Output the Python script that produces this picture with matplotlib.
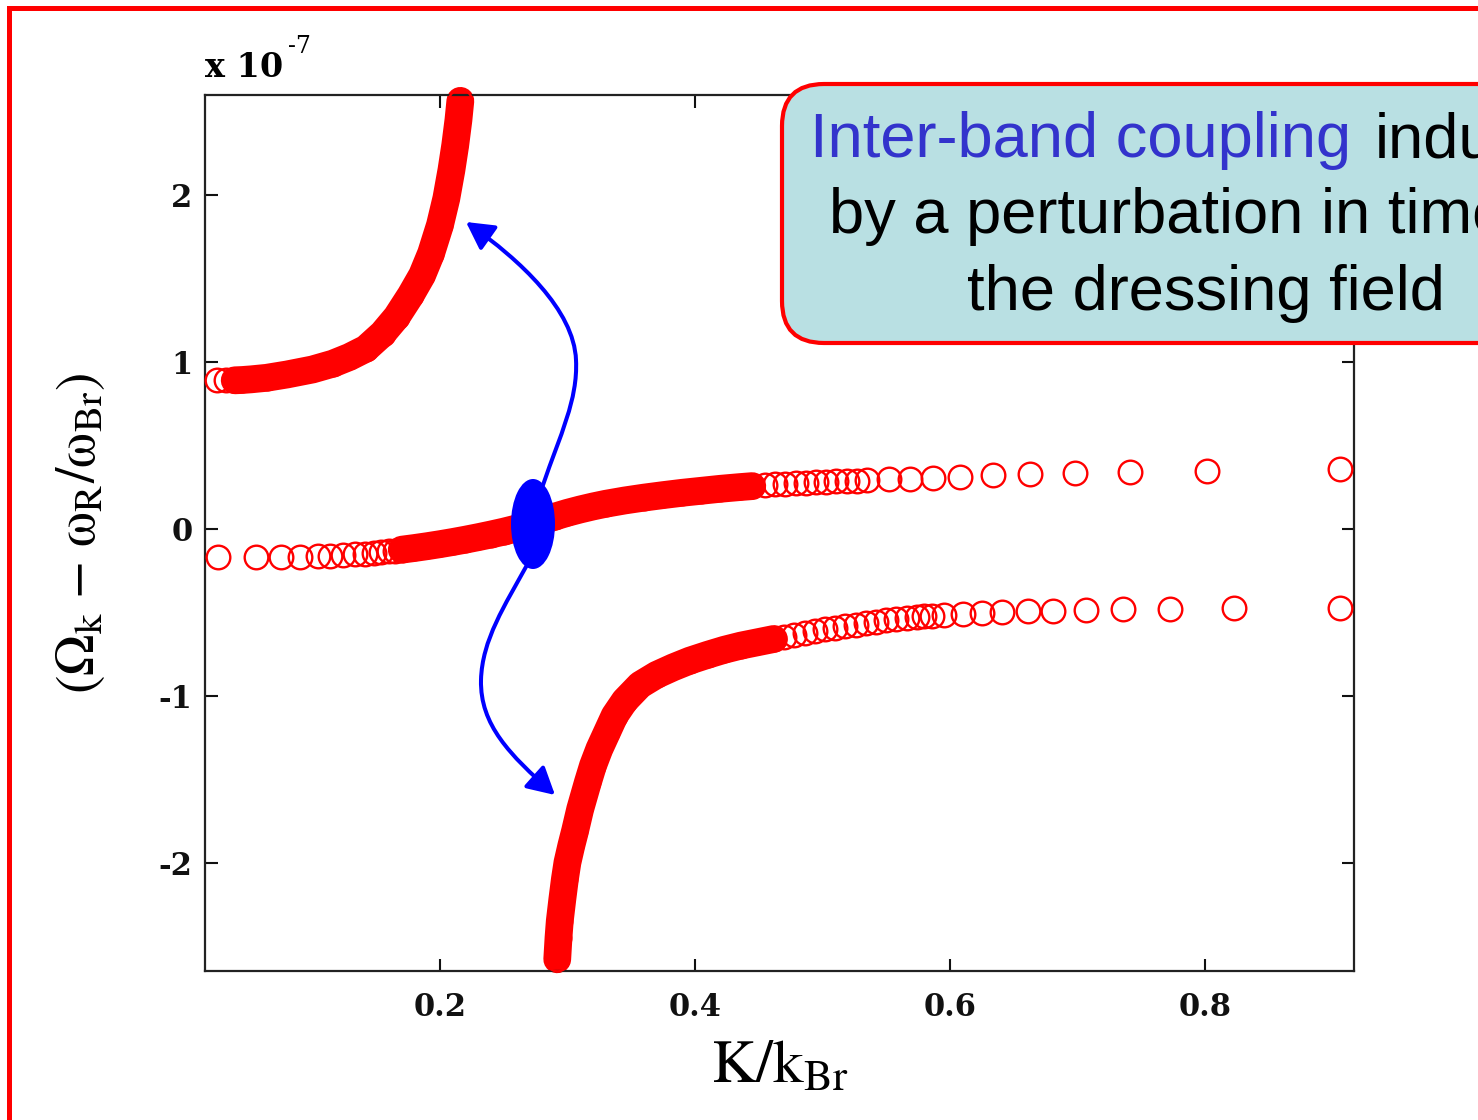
import numpy as np
import matplotlib
matplotlib.use('Agg')
import matplotlib.pyplot as plt
from matplotlib.patches import Rectangle, FancyBboxPatch, Ellipse, FancyArrowPatch
from matplotlib.path import Path

plt.rcParams['mathtext.fontset'] = 'stix'
plt.rcParams['axes.unicode_minus'] = False

# upper branch
up_k = [0.025, 0.032, 0.039, 0.045, 0.052, 0.064, 0.080, 0.100, 0.116, 0.129, 0.142,
        0.155, 0.166, 0.177, 0.186, 0.193, 0.200, 0.205, 0.209, 0.212, 0.2145, 0.216]
up_y = [0.89, 0.89, 0.89, 0.892, 0.896, 0.905, 0.925, 0.955, 0.99, 1.03, 1.08,
        1.17, 1.27, 1.40, 1.52, 1.65, 1.82, 1.98, 2.15, 2.30, 2.45, 2.565]

# middle branch
mid_k = [0.026, 0.056, 0.075, 0.090, 0.104, 0.114, 0.124, 0.133, 0.141, 0.148, 0.154,
         0.160, 0.165, 0.170, 0.180, 0.190, 0.200, 0.210, 0.220, 0.230, 0.240, 0.250,
         0.260, 0.270, 0.280, 0.290, 0.300, 0.310, 0.320, 0.330, 0.345, 0.360, 0.375,
         0.390, 0.405, 0.420, 0.435, 0.445, 0.455, 0.463, 0.471, 0.479, 0.487, 0.495,
         0.503, 0.511, 0.519, 0.527, 0.535, 0.552, 0.569, 0.587, 0.608, 0.634, 0.663,
         0.698, 0.741, 0.802, 0.906]
mid_y = [-0.170, -0.170, -0.169, -0.167, -0.164, -0.161, -0.158, -0.153, -0.148, -0.143, -0.139,
         -0.134, -0.130, -0.125, -0.115, -0.104, -0.092, -0.079, -0.065, -0.050, -0.034, -0.017,
         0.002, 0.024, 0.048, 0.073, 0.096, 0.116, 0.134, 0.150, 0.170, 0.187, 0.202,
         0.216, 0.228, 0.240, 0.250, 0.256, 0.262, 0.266, 0.270, 0.274, 0.277, 0.280,
         0.282, 0.284, 0.286, 0.288, 0.290, 0.296, 0.300, 0.305, 0.312, 0.320, 0.326,
         0.334, 0.341, 0.344, 0.356]

# lower branch
low_k = [0.292, 0.293, 0.294, 0.296, 0.298, 0.300, 0.303, 0.306, 0.310, 0.316, 0.320,
         0.325, 0.331, 0.337, 0.345, 0.357, 0.370, 0.383, 0.396, 0.410, 0.423, 0.436,
         0.449, 0.462, 0.470, 0.478, 0.486, 0.494, 0.502, 0.510, 0.518, 0.526, 0.534,
         0.542, 0.550, 0.558, 0.566, 0.574, 0.580, 0.586, 0.595, 0.610, 0.625, 0.641,
         0.661, 0.681, 0.707, 0.736, 0.773, 0.823, 0.906]
low_y = [-2.58, -2.45, -2.35, -2.22, -2.10, -2.00, -1.90, -1.81, -1.68, -1.52, -1.42,
         -1.32, -1.22, -1.12, -1.03, -0.935, -0.875, -0.830, -0.790, -0.755, -0.725, -0.700,
         -0.680, -0.660, -0.648, -0.636, -0.624, -0.613, -0.602, -0.592, -0.583, -0.574, -0.565,
         -0.556, -0.548, -0.541, -0.535, -0.529, -0.525, -0.521, -0.516, -0.510, -0.505, -0.500,
         -0.495, -0.491, -0.487, -0.483, -0.478, -0.475, -0.474]

# K ranges where the circles overlap into a solid band
bands = [(up_k, up_y, 0.039, 0.3), (mid_k, mid_y, 0.170, 0.445), (low_k, low_y, 0.0, 0.462)]

fig = plt.figure(figsize=(14.78, 11.2), dpi=100)
ax = fig.add_axes([205/1478, 1 - 971/1120, 1149/1478, 876/1120])

for k, y, lo, hi in bands:
    k = np.array(k); y = np.array(y)
    m = (k >= lo) & (k <= hi)
    ax.plot(k[m], y[m], '-', color='red', lw=20, solid_capstyle='round',
            solid_joinstyle='round', zorder=2, clip_on=False)
    ax.plot(k, y, 'o', mfc='none', mec='red', ms=17, mew=1.7, ls='none',
            zorder=3, clip_on=False)

ax.set_xlim(0.0157, 0.917)
ax.set_ylim(-2.65, 2.60)
ax.set_xticks([0.2, 0.4, 0.6, 0.8])
ax.set_yticks([-2, -1, 0, 1, 2])
ax.set_xticklabels(['0.2', '0.4', '0.6', '0.8'])
ax.set_yticklabels(['-2', '-1', '0', '1', '2'])
ax.tick_params(direction='in', length=9, width=1.5, top=True, right=True,
               labelsize=22, colors='#111111')
ax.tick_params(axis='x', pad=15)
ax.tick_params(axis='y', pad=9)
for lab in ax.get_xticklabels() + ax.get_yticklabels():
    lab.set_family('DejaVu Serif')
    lab.set_fontweight('bold')
for s in ax.spines.values():
    s.set_linewidth(1.6)
    s.set_color('#222222')

ax.set_xlabel(r'$\mathrm{K/k_{Br}}$', fontsize=44)
ax.xaxis.set_label_coords(0.5, -0.075)
ax.set_ylabel(r'$(\Omega_\mathrm{k}\ \mathrm{-}\ \mathrm{\omega}_\mathrm{R}/\mathrm{\omega}_\mathrm{Br})$',
              fontsize=40)
ax.yaxis.set_label_coords(-0.085, 0.5)

fig.text(205/1478, 1 - 77/1120, 'x 10', fontsize=24, family='DejaVu Serif',
         fontweight='bold', va='baseline')
fig.text(288/1478, 1 - 53/1120, '-7', fontsize=17, family='DejaVu Serif', va='baseline')

T = fig.dpi_scale_trans
def P(px, py):
    return (px / 100.0, (1120 - py) / 100.0)

# outer red frame
fig.add_artist(Rectangle(P(8.5, 1300), 20, 12.925, transform=T, fill=False,
                         ec='red', lw=3.6, zorder=10, clip_on=False))

# blue marker and arrows
fig.add_artist(Ellipse(P(533, 524), 0.44, 0.90, transform=T, fc='blue', ec='none', zorder=5))
up_path = Path([P(543, 485), P(560, 435), P(578, 400), P(576, 360),
                P(574, 310), P(520, 260), P(466, 222)],
               [Path.MOVETO, Path.CURVE4, Path.CURVE4, Path.CURVE4,
                Path.CURVE4, Path.CURVE4, Path.CURVE4])
low_path = Path([P(527, 565), P(505, 605), P(482, 640), P(481, 680),
                 P(480, 725), P(510, 755), P(555, 795)],
                [Path.MOVETO, Path.CURVE4, Path.CURVE4, Path.CURVE4,
                 Path.CURVE4, Path.CURVE4, Path.CURVE4])
for pth in (up_path, low_path):
    fig.add_artist(FancyArrowPatch(path=pth, transform=T, color='blue', lw=2.9,
                                   arrowstyle='-|>,head_length=0.55,head_width=0.3',
                                   mutation_scale=30, zorder=6))

# annotation box
fig.add_artist(FancyBboxPatch(P(782, 343), 9.0, 2.59, transform=T,
                              boxstyle='round,pad=0,rounding_size=0.42',
                              fc='#B9E0E3', ec='red', lw=3.0, zorder=8, clip_on=False))
fs = 45.5
fig.text(810/1478, 1 - 157/1120, 'Inter-band coupling', color='#3333CC', fontsize=fs,
         family='Liberation Sans', va='baseline', ha='left', zorder=9)
fig.text(1375/1478, 1 - 157/1120, 'induced', color='black', fontsize=fs,
         family='Liberation Sans', va='baseline', ha='left', zorder=9)
fig.text(1203/1478, 1 - 233/1120, 'by a perturbation in time of', color='black', fontsize=fs,
         family='Liberation Sans', va='baseline', ha='center', zorder=9)
fig.text(1206/1478, 1 - 310/1120, 'the dressing field', color='black', fontsize=fs,
         family='Liberation Sans', va='baseline', ha='center', zorder=9)

fig.savefig('out.png', dpi=100)
